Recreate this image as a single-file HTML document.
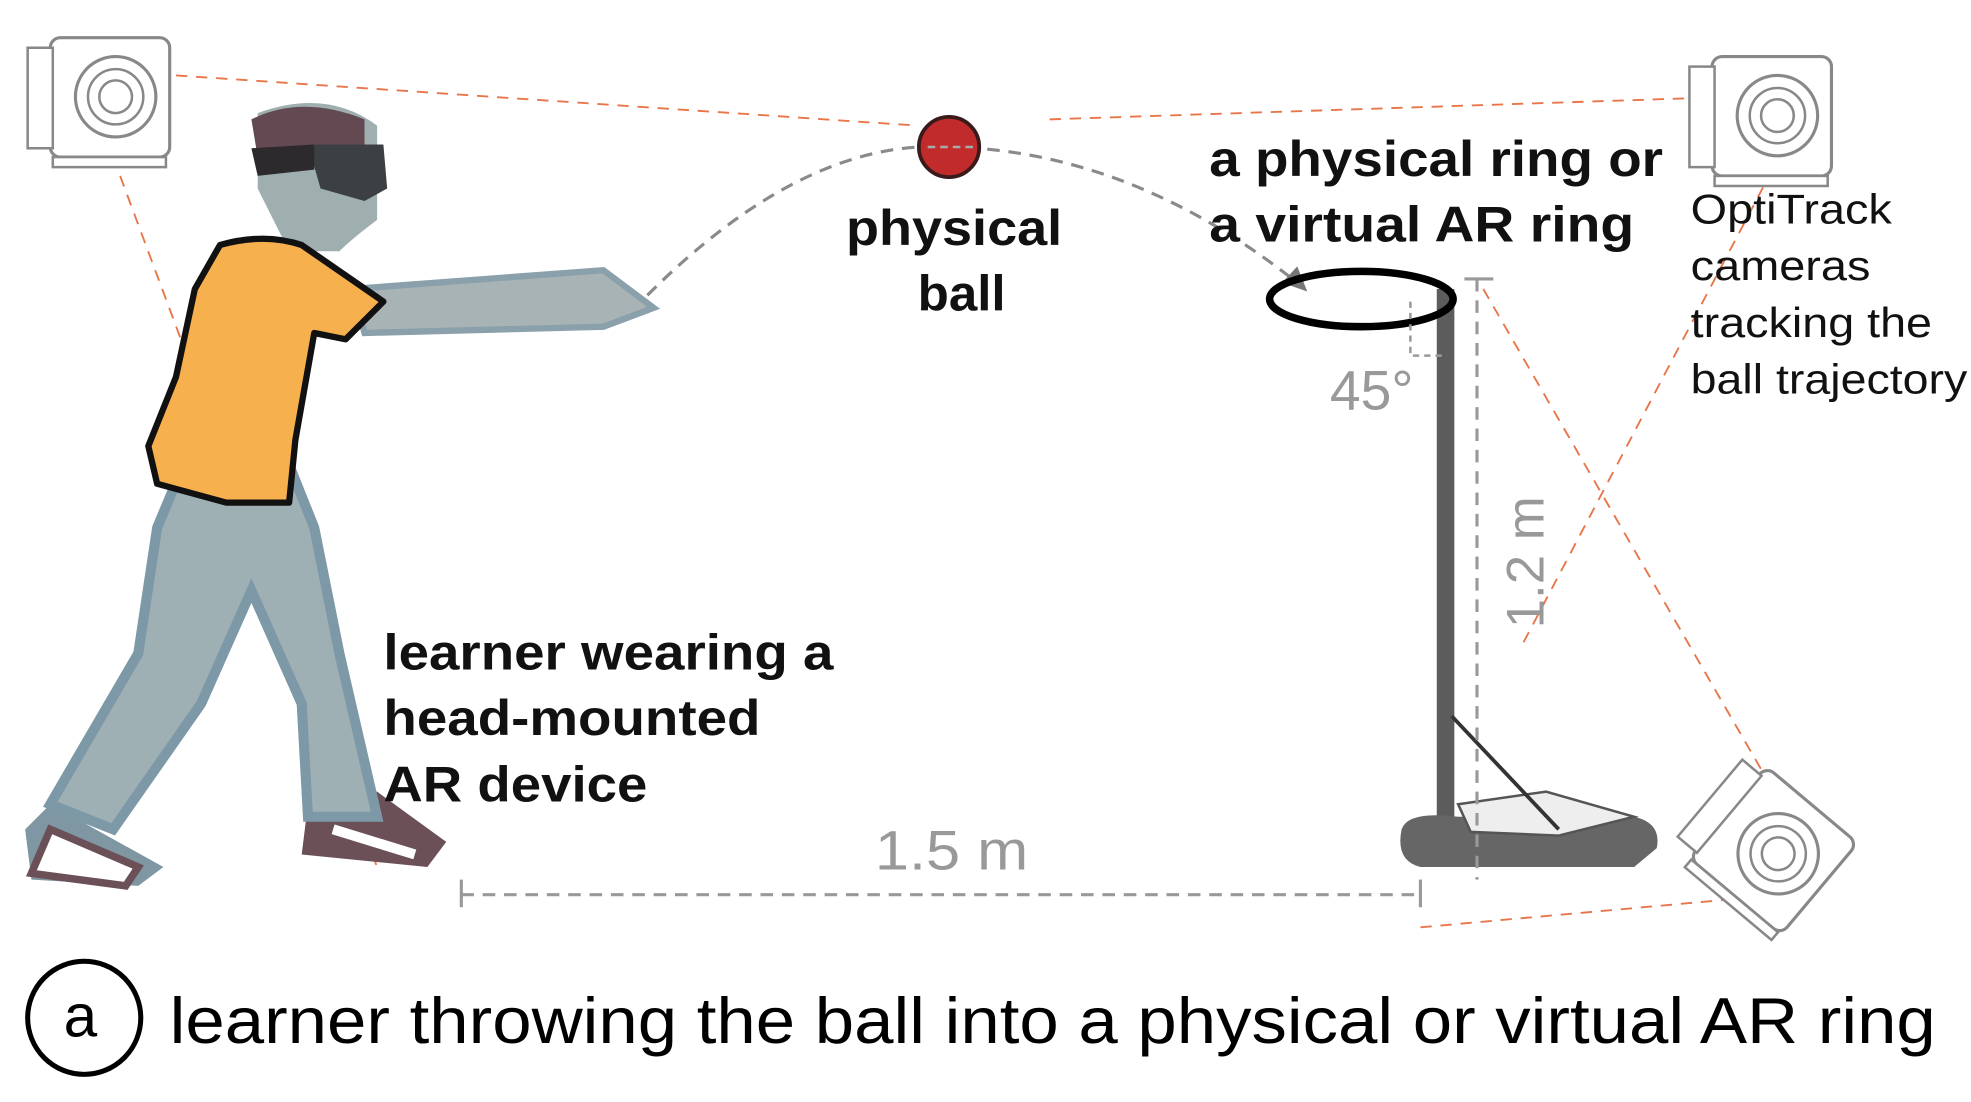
<!DOCTYPE html>
<html><head><meta charset="utf-8"><style>
html,body{margin:0;padding:0;background:#fff;}
svg{display:block;}
text{font-family:"Liberation Sans",Arial,sans-serif;}
</style></head><body>
<svg width="1971" height="1102" viewBox="0 0 1568 877" preserveAspectRatio="none" xmlns="http://www.w3.org/2000/svg">
<defs>
<g id="cam">
  <rect x="0" y="0" width="95" height="95" rx="8" fill="#fff" stroke="#888" stroke-width="2.5"/>
  <rect x="-18" y="8" width="20" height="80" fill="#fff" stroke="#888" stroke-width="2"/>
  <circle cx="52" cy="47" r="32" fill="none" stroke="#888" stroke-width="2.5"/>
  <circle cx="52" cy="47" r="22" fill="none" stroke="#888" stroke-width="2"/>
  <circle cx="52" cy="47" r="13" fill="none" stroke="#888" stroke-width="2"/>
  <rect x="2" y="95" width="90" height="8" fill="#fff" stroke="#888" stroke-width="2"/>
</g>
</defs>
<g stroke="#e8764a" stroke-width="1.5" stroke-dasharray="9,7" fill="none">
  <line x1="140" y1="60" x2="730" y2="100"/>
  <line x1="835" y1="95" x2="1350" y2="78"/>
  <line x1="90" y1="125" x2="300" y2="690"/>
  <line x1="1410" y1="135" x2="1210" y2="515"/>
  <line x1="1180" y1="230" x2="1420" y2="645"/>
  <line x1="1130" y1="738" x2="1385" y2="715"/>
</g>
<use href="#cam" transform="translate(40,30)"/>
<use href="#cam" transform="translate(1362,45)"/>
<use href="#cam" transform="translate(1405,610) rotate(40)"/>
<g>
  <path d="M130,690 L40,640 L20,660 L25,700 L110,705 Z" fill="#7e97a3"/>
  <path d="M40,660 L110,690 L100,705 L25,695 Z" fill="#fff" stroke="#6b5058" stroke-width="6"/>
  <path d="M245,640 L240,680 L340,690 L355,670 L300,630 Z" fill="#6b5058"/>
  <path d="M265,660 L330,680" stroke="#fff" stroke-width="8"/>
  <path d="M150,360 L125,420 L110,520 L40,640 L90,660 L160,560 L200,470 L240,560 L245,650 L300,650 L270,520 L250,420 L230,370 Z" fill="#9fb0b5" stroke="#7d98a6" stroke-width="8"/>
  <path d="M280,230 L480,215 L520,245 L480,260 L290,265 Z" fill="#a7b3b4" stroke="#8aa0aa" stroke-width="5"/>
  <path d="M205,90 Q260,70 300,100 L300,175 Q280,190 270,200 L230,200 L205,150 Z" fill="#9fafb0"/>
  <path d="M200,95 Q240,75 290,95 L290,115 L205,125 Z" fill="#634a52"/>
  <path d="M245,115 L305,115 L308,150 L290,160 L255,150 Z" fill="#3c4042"/>
  <path d="M200,118 L250,115 L250,135 L205,140 Z" fill="#2c2a2c"/>
  <path d="M175,195 Q210,185 240,195 L305,240 L275,270 L250,265 L235,350 L230,400 L180,400 L125,385 L118,355 L140,300 L155,230 Z" fill="#f7b04e" stroke="#111" stroke-width="5" stroke-linejoin="round"/>
</g>
<path d="M515,235 Q640,110 755,117 Q900,120 1032,225" fill="none" stroke="#8a8a8a" stroke-width="2.5" stroke-dasharray="10,7"/>
<polygon points="1040,232 1020,225 1032,212" fill="#777"/>
<circle cx="755" cy="117" r="24" fill="#c22b2b" stroke="#3a1a1a" stroke-width="3"/>
<line x1="738" y1="117" x2="775" y2="117" stroke="#aaa" stroke-width="2" stroke-dasharray="6,4"/>
<line x1="1150" y1="230" x2="1150" y2="672" stroke="#5c5c5c" stroke-width="14"/>
<path d="M1115,660 Q1120,645 1160,650 L1300,650 Q1322,655 1318,675 L1300,690 L1130,690 Q1110,685 1115,660 Z" fill="#666"/>
<path d="M1160,640 L1230,630 L1300,650 L1240,665 L1170,662 Z" fill="#eee" stroke="#555" stroke-width="2"/>
<line x1="1155" y1="570" x2="1240" y2="660" stroke="#333" stroke-width="3"/>
<ellipse cx="1083" cy="238" rx="73" ry="22" fill="none" stroke="#000" stroke-width="6"/>
<path d="M1122,240 L1122,283 L1147,283" fill="none" stroke="#999" stroke-width="2" stroke-dasharray="5,4"/>
<line x1="1175" y1="222" x2="1175" y2="700" stroke="#999" stroke-width="2.5" stroke-dasharray="10,7"/>
<line x1="1165" y1="222" x2="1188" y2="222" stroke="#999" stroke-width="2.5"/>
<text x="1058" y="326" font-size="44" fill="#999">45°</text>
<text transform="translate(1228,500) rotate(-90)" font-size="42" fill="#999">1.2 m</text>
<line x1="367" y1="712" x2="1130" y2="712" stroke="#999" stroke-width="2.5" stroke-dasharray="10,7"/>
<line x1="367" y1="700" x2="367" y2="722" stroke="#999" stroke-width="2.5"/>
<line x1="1130" y1="700" x2="1130" y2="722" stroke="#999" stroke-width="2.5"/>
<text x="696" y="692" font-size="44" fill="#999" textLength="122" lengthAdjust="spacingAndGlyphs">1.5 m</text>
<g font-weight="bold" font-size="40" fill="#111">
  <text x="673" y="195" textLength="172" lengthAdjust="spacingAndGlyphs">physical</text>
  <text x="730" y="247" textLength="70" lengthAdjust="spacingAndGlyphs">ball</text>
  <text x="962" y="140" textLength="361" lengthAdjust="spacingAndGlyphs">a physical ring or</text>
  <text x="962" y="192" textLength="338" lengthAdjust="spacingAndGlyphs">a virtual AR ring</text>
  <text x="305" y="533" textLength="358" lengthAdjust="spacingAndGlyphs">learner wearing a</text>
  <text x="305" y="585" textLength="300" lengthAdjust="spacingAndGlyphs">head-mounted</text>
  <text x="305" y="638" textLength="210" lengthAdjust="spacingAndGlyphs">AR device</text>
</g>
<g font-size="33" fill="#111">
  <text x="1345" y="178" textLength="160" lengthAdjust="spacingAndGlyphs">OptiTrack</text>
  <text x="1345" y="223" textLength="143" lengthAdjust="spacingAndGlyphs">cameras</text>
  <text x="1345" y="268" textLength="192" lengthAdjust="spacingAndGlyphs">tracking the</text>
  <text x="1345" y="313" textLength="220" lengthAdjust="spacingAndGlyphs">ball trajectory</text>
</g>
<circle cx="67" cy="810" r="45" fill="none" stroke="#000" stroke-width="4"/>
<text x="64" y="825" font-size="48" text-anchor="middle" fill="#000">a</text>
<text x="135" y="830" font-size="52" fill="#000" textLength="1405" lengthAdjust="spacingAndGlyphs">learner throwing the ball into a physical or virtual AR ring</text>
</svg>
</body></html>
